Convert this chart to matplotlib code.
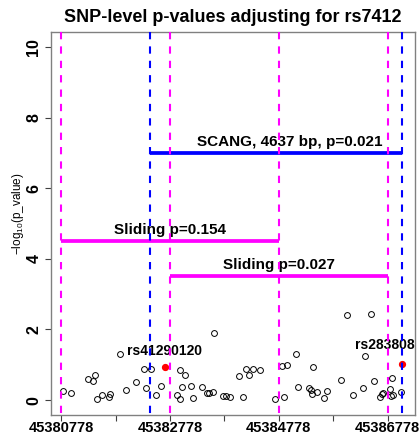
import matplotlib
matplotlib.use('Agg')
import matplotlib.pyplot as plt

plt.rcParams['font.family'] = ['Liberation Sans', 'DejaVu Sans']
plt.rcParams['mathtext.fontset'] = 'custom'
plt.rcParams['mathtext.rm'] = 'Liberation Sans'
plt.rcParams['mathtext.it'] = 'Liberation Sans'

# SNP positions and -log10(p) values
snp_pos = [45380804, 45380951, 45381274, 45381355, 45381397, 45381428, 45381532,
           45381673, 45381660, 45381857, 45381967, 45382151, 45382304, 45382335,
           45382421, 45382513, 45382611, 45382899, 45382960, 45382960, 45383002,
           45383052, 45383162, 45383205, 45383370, 45383462, 45383493, 45383561,
           45383585, 45383756, 45383806, 45383879, 45384050, 45384124, 45384173,
           45384223, 45384296, 45384431, 45384701, 45384829, 45384877, 45384932,
           45385092, 45385123, 45385337, 45385362, 45385381, 45385410, 45385484,
           45385607, 45385668, 45385920, 45386036, 45386146, 45386319, 45386361,
           45386466, 45386532, 45386637, 45386668, 45386697, 45386820, 45386839,
           45386870, 45386863, 45387022]
snp_logp = [0.27, 0.19, 0.60, 0.55, 0.70, 0.04, 0.16,
            0.18, 0.08, 1.32, 0.28, 0.50, 0.88, 0.35,
            0.88, 0.15, 0.40, 0.16, 0.02, 0.86, 0.36,
            0.70, 0.40, 0.06, 0.38, 0.21, 0.19, 0.23,
            1.90, 0.13, 0.11, 0.08, 0.67, 0.08, 0.88,
            0.70, 0.88, 0.84, 0.02, 0.97, 0.08, 0.99,
            1.32, 0.38, 0.35, 0.28, 0.17, 0.93, 0.23,
            0.07, 0.27, 0.57, 2.42, 0.16, 0.35, 1.25,
            2.44, 0.53, 0.08, 0.18, 0.21, 0.33, 0.13,
            0.16, 0.63, 0.23]

# highlighted SNPs
hl_pos = [45382684, 45387035]
hl_logp = [0.93, 1.01]
hl_names = ['rs41290120', 'rs283808']

# windows
scang_window = [45382408, 45387045]
scang_level = 7.0
scang_text = 'SCANG, 4637 bp, p=0.021'
scang_text_x = 45384982

sliding_windows = [[45380778, 45384778], [45382778, 45386778]]
sliding_levels = [4.5, 3.5]
sliding_texts = ['Sliding p=0.154', 'Sliding p=0.027']

xticks = [45380778, 45381778, 45382778, 45383778, 45384778, 45385778, 45386778]
xticklabels = ['45380778', '', '45382778', '', '45384778', '', '45386778']
yticks = [0, 2, 4, 6, 8, 10]

magenta, blue = '#ff00ff', '#0000ff'
frame_color = '#808080'


def main():
    fig = plt.figure(figsize=(4.19, 4.33), dpi=100)
    ax = fig.add_axes([51 / 419, 18 / 433, 364 / 419, 383 / 433])

    ax.plot(snp_pos, snp_logp, 'o', mfc='none', mec='black', ms=4.2, mew=0.7, zorder=2)
    ax.plot(hl_pos, hl_logp, 'o', color='red', ms=4.2, zorder=3)

    # labels of highlighted SNPs
    ax.text(hl_pos[0], hl_logp[0] + 0.45, hl_names[0], ha='center', va='center',
            fontsize=10, fontweight='bold', zorder=3)
    ax.text(45387280, hl_logp[1] + 0.56, hl_names[1], ha='right', va='center',
            fontsize=10, fontweight='bold', zorder=3, clip_on=True)

    # window segments
    ax.plot(scang_window, [scang_level] * 2, color=blue, lw=2.7,
            solid_capstyle='butt', zorder=4)
    ax.text(scang_text_x, scang_level + 0.32, scang_text, ha='center', va='center',
            fontsize=11, fontweight='bold', zorder=3)
    for (x0, x1), lev, txt in zip(sliding_windows, sliding_levels, sliding_texts):
        ax.plot([x0, x1], [lev, lev], color=magenta, lw=2.7,
                solid_capstyle='butt', zorder=4)
        ax.text((x0 + x1) / 2, lev + 0.33, txt, ha='center', va='center',
                fontsize=11, fontweight='bold', zorder=3)

    # dashed boundaries, drawn from top down
    trans = ax.get_xaxis_transform()
    boundaries = [(x, magenta) for win in sliding_windows for x in win]
    boundaries += [(x, blue) for x in scang_window]
    for x, c in boundaries:
        ax.plot([x, x], [1, 0], transform=trans, color=c, lw=1.5,
                linestyle=(0, (3.5, 3.4)), zorder=5)

    ax.set_xlim(45380590, 45387280)
    ax.set_ylim(-0.42, 10.42)
    ax.set_xticks(xticks)
    ax.set_xticklabels(xticklabels, fontsize=10.5, fontweight='bold')
    ax.set_yticks(yticks)
    ax.set_yticklabels([str(v) for v in yticks], fontsize=11.5, fontweight='bold',
                       rotation=90, va='center')
    ax.tick_params(axis='both', length=4, width=0.8, color='#404040')
    ax.tick_params(axis='x', pad=0.5)
    ax.tick_params(axis='y', pad=3)
    for s in ax.spines.values():
        s.set_color(frame_color)
        s.set_linewidth(1.0)

    fig.text(233 / 419, 1 - 17 / 433, 'SNP-level p-values adjusting for rs7412',
             ha='center', va='center', fontsize=13, fontweight='bold')
    fig.text(18 / 419, 1 - 214 / 433, r'$-\mathrm{log}_{10}\mathrm{(p\_value)}$',
             ha='center', va='center', rotation=90, fontsize=8.5)

    fig.savefig('out.png', dpi=100)


if __name__ == '__main__':
    main()
